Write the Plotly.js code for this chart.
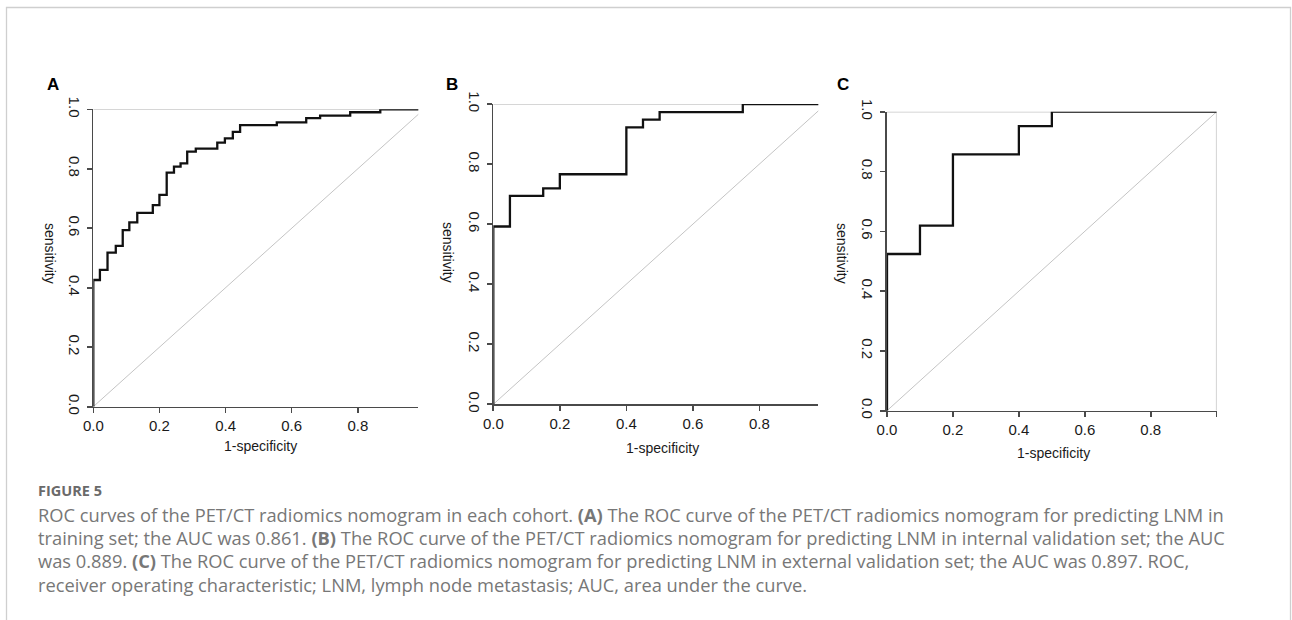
<!DOCTYPE html>
<html>
<head>
<meta charset="utf-8">
<script src="https://cdn.plot.ly/plotly-3.0.1.min.js"></script>
<style>
html,body{margin:0;padding:0;background:#fff;}
#chart{width:1292px;height:620px;}
</style>
</head>
<body>
<div id="chart"></div>
<script>
// ---- data ----
const panelLetters = ['A', 'B', 'C'];
const tickVals = [0, 0.2, 0.4, 0.6, 0.8, 1.0];
const yTickText = ['0.0', '0.2', '0.4', '0.6', '0.8', '1.0'];
const xTickText = ['0.0', '0.2', '0.4', '0.6', '0.8', ''];
const xTitle = '1-specificity';
const yTitle = 'sensitivity';

const fprA = [0, 0, 0.02, 0.043, 0.068, 0.089, 0.109, 0.133, 0.18, 0.2, 0.222, 0.244, 0.264, 0.284, 0.31, 0.375, 0.398, 0.422, 0.444, 0.555, 0.644, 0.686, 0.777, 0.868, 1.0];
const tprA = [0, 0.426, 0.46, 0.518, 0.541, 0.594, 0.62, 0.652, 0.678, 0.712, 0.787, 0.807, 0.818, 0.858, 0.868, 0.888, 0.902, 0.924, 0.947, 0.956, 0.97, 0.979, 0.99, 1.0, 1.0];

const fprB = [0, 0, 0.05, 0.15, 0.2, 0.4, 0.45, 0.5, 0.75, 1.0];
const tprB = [0, 0.592, 0.694, 0.719, 0.766, 0.922, 0.948, 0.973, 1.0, 1.0];

const fprC = [0, 0, 0.1, 0.2, 0.4, 0.5, 1.0];
const tprC = [0, 0.524, 0.619, 0.857, 0.952, 1.0, 1.0];

const chanceX = [0, 1];
const chanceY = [0, 1];
const topLineX = [0, 1];
const topLineY = [1, 1];
const rightLineX = [1, 1];
const rightLineY = [0, 1];

const figureLabel = 'FIGURE 5';
const captionLines = [
  'ROC curves of the PET/CT radiomics nomogram in each cohort. <b>(A)</b> The ROC curve of the PET/CT radiomics nomogram for predicting LNM in',
  'training set; the AUC was 0.861. <b>(B)</b> The ROC curve of the PET/CT radiomics nomogram for predicting LNM in internal validation set; the AUC',
  'was 0.889. <b>(C)</b> The ROC curve of the PET/CT radiomics nomogram for predicting LNM in external validation set; the AUC was 0.897. ROC,',
  'receiver operating characteristic; LNM, lymph node metastasis; AUC, area under the curve.'
];

// ---- layout geometry (pixels) ----
const W = 1292, H = 620;
const px = v => v / W;
const py = v => 1 - v / H;

const panels = [
  {fpr: fprA, tpr: tprA, left: 93.3, right: 418.3, top: 109.3, bottom: 406.7, xmax: 0.983, letter: [53, 84], xt: [260, 446], yt: [50, 253], box: false, endTick: false},
  {fpr: fprB, tpr: tprB, left: 493.3, right: 818.3, top: 104, bottom: 404.3, xmax: 0.977, letter: [452, 84], xt: [662, 447.5], yt: [448, 252], box: false, endTick: false},
  {fpr: fprC, tpr: tprC, left: 887, right: 1216.7, top: 111.7, bottom: 410.7, xmax: 1.0, letter: [843, 84], xt: [1053, 452.5], yt: [842, 253], box: true, endTick: true}
];

const traces = [];
const layout = {
  width: W, height: H,
  margin: {l: 0, r: 0, t: 0, b: 0},
  paper_bgcolor: '#ffffff',
  plot_bgcolor: 'rgba(0,0,0,0)',
  showlegend: false,
  annotations: [],
  shapes: []
};

const axisColor = '#4a4a4a';
const tickFont = {family: 'Liberation Sans, Arial, sans-serif', size: 15, color: '#1a1a1a'};

panels.forEach((p, i) => {
  const n = i === 0 ? '' : String(i + 1);
  const xa = 'x' + n, ya = 'y' + n;
  layout['xaxis' + n] = {
    domain: [px(p.left), px(p.right)],
    range: [0, p.xmax],
    anchor: ya,
    showgrid: false, zeroline: false,
    showline: true, linecolor: axisColor, linewidth: 1.6,
    ticks: 'outside', ticklen: 5, tickwidth: 1.6, tickcolor: axisColor,
    tickvals: p.endTick ? tickVals : tickVals.slice(0, 5),
    ticktext: p.endTick ? xTickText : xTickText.slice(0, 5),
    tickfont: tickFont,
    fixedrange: true
  };
  layout['yaxis' + n] = {
    domain: [py(p.bottom), py(p.top)],
    range: [0, 1],
    anchor: xa,
    showgrid: false, zeroline: false,
    showline: true, linecolor: axisColor, linewidth: 1.6,
    ticks: 'outside', ticklen: 5, tickwidth: 1.6, tickcolor: axisColor,
    tickvals: tickVals, ticktext: yTickText,
    tickangle: 90,
    tickfont: tickFont,
    fixedrange: true
  };
  // reference lines
  traces.push({x: topLineX, y: topLineY, xaxis: xa, yaxis: ya, mode: 'lines', line: {color: '#c8c8c8', width: 1.6}, hoverinfo: 'skip', cliponaxis: false});
  if (p.box) {
    traces.push({x: rightLineX, y: rightLineY, xaxis: xa, yaxis: ya, mode: 'lines', line: {color: '#c8c8c8', width: 1.6}, hoverinfo: 'skip', cliponaxis: false});
  }
  traces.push({x: chanceX, y: chanceY, xaxis: xa, yaxis: ya, mode: 'lines', line: {color: '#c4c4c4', width: 1}, hoverinfo: 'skip'});
  // ROC curve
  traces.push({x: p.fpr, y: p.tpr, xaxis: xa, yaxis: ya, mode: 'lines', line: {color: '#111111', width: 2.3, shape: 'hv'}, cliponaxis: false});

  // panel letter
  layout.annotations.push({xref: 'paper', yref: 'paper', x: px(p.letter[0]), y: py(p.letter[1]), xanchor: 'center', yanchor: 'middle', showarrow: false,
    text: '<b>' + panelLetters[i] + '</b>', font: {family: 'Liberation Sans, Arial, sans-serif', size: 17, color: '#000'}});
  // axis titles
  layout.annotations.push({xref: 'paper', yref: 'paper', x: px(p.xt[0]), y: py(p.xt[1]), xanchor: 'center', yanchor: 'middle', showarrow: false,
    text: xTitle, font: {family: 'Liberation Sans, Arial, sans-serif', size: 14, color: '#1a1a1a'}});
  layout.annotations.push({xref: 'paper', yref: 'paper', x: px(p.yt[0]), y: py(p.yt[1]), xanchor: 'center', yanchor: 'middle', showarrow: false,
    text: yTitle, textangle: 90, font: {family: 'Liberation Sans, Arial, sans-serif', size: 14, color: '#1a1a1a'}});
});

// caption
layout.annotations.push({xref: 'paper', yref: 'paper', x: px(36), y: py(490), xanchor: 'left', yanchor: 'middle', showarrow: false,
  text: '<b>' + figureLabel + '</b>', font: {family: 'Open Sans, sans-serif', size: 14.5, color: '#6a6a6a'}});
const lineY = [514, 537, 560.5, 584];
captionLines.forEach((t, k) => {
  layout.annotations.push({xref: 'paper', yref: 'paper', x: px(36), y: py(lineY[k]), xanchor: 'left', yanchor: 'middle', align: 'left', showarrow: false,
    text: t, font: {family: 'Open Sans, sans-serif', size: 18.3, color: '#777777'}});
});

// outer frame
layout.shapes.push({type: 'rect', xref: 'paper', yref: 'paper', x0: px(6.5), x1: px(1290.5), y0: py(640), y1: py(7.5),
  line: {color: '#cfcfcf', width: 1.3}, fillcolor: 'rgba(0,0,0,0)'});

Plotly.newPlot('chart', traces, layout, {displayModeBar: false, staticPlot: true});
</script>
</body>
</html>
